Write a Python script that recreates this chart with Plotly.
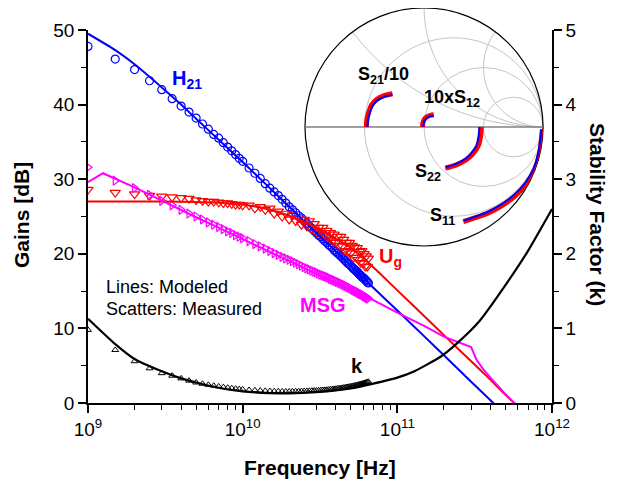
import numpy as np
import plotly.graph_objects as go

# ---------------- data (frequencies in GHz) ----------------
f_meas_ghz = [1, 1.5, 2, 2.5, 3, 3.5, 4, 4.5, 5, 5.5, 6, 6.5, 7, 7.5, 8, 8.5, 9, 9.5, 10,
              11, 12, 13, 14, 15, 16, 17, 18, 19, 20, 21, 22, 23, 24, 25, 26, 27, 28, 29, 30,
              31, 32, 33, 34, 35, 36, 37, 38, 39, 40, 41, 42, 43, 44, 45, 46, 47, 48, 49, 50,
              51, 52, 53, 54, 55, 56, 57, 58, 59, 60, 61, 62, 63, 64, 65]

h21_meas = [47.8, 46.1, 44.7, 43.2, 42.0, 40.8, 39.8, 39.0, 38.2, 37.4, 36.7, 36.0, 35.5, 34.9, 34.3, 33.8, 33.3, 32.8, 32.4,
            31.5, 30.8, 30.1, 29.4, 28.8, 28.3, 27.8, 27.3, 26.8, 26.3, 25.9, 25.5, 25.1, 24.8, 24.4, 24.1, 23.7, 23.4, 23.1, 22.8,
            22.5, 22.3, 22.0, 21.7, 21.5, 21.2, 21.0, 20.8, 20.5, 20.3, 20.1, 19.9, 19.7, 19.5, 19.3, 19.1, 18.9, 18.7, 18.6, 18.4,
            18.2, 18.0, 17.9, 17.7, 17.6, 17.4, 17.2, 17.1, 16.9, 16.8, 16.7, 16.5, 16.4, 16.2, 16.1]

ug_meas = [28.6, 28.2, 28.0, 27.8, 27.7, 27.6, 27.5, 27.4, 27.2, 27.1, 27.0, 27.0, 26.9, 26.8, 26.8, 26.7, 26.6, 26.6, 26.5,
           26.5, 26.1, 26.3, 25.9, 26.1, 25.4, 25.7, 25.0, 25.4, 24.6, 25.2, 24.4, 24.8, 23.9, 24.6, 23.7, 24.4, 23.3, 24.0, 22.9,
           23.5, 22.7, 23.5, 22.5, 23.1, 21.9, 22.8, 21.7, 22.6, 21.5, 22.3, 21.1, 22.3, 21.0, 21.9, 20.4, 21.5, 20.3, 21.5, 20.1,
           21.1, 19.5, 20.9, 19.5, 20.8, 19.2, 20.3, 18.8, 20.4, 18.7, 20.0, 18.3, 19.7, 18.3, 19.4]

msg_meas = [31.6, 29.8, 28.8, 27.9, 27.1, 26.5, 25.9, 25.4, 25.0, 24.6, 24.2, 23.9, 23.6, 23.3, 23.0, 22.8, 22.5, 22.3, 22.1,
            21.7, 21.3, 21.0, 20.7, 20.4, 20.1, 19.85, 19.6, 19.4, 19.2, 19.0, 18.8, 18.6, 18.4, 18.2, 18.05, 17.9, 17.75, 17.6, 17.5,
            17.35, 17.2, 17.1, 17.0, 16.9, 16.8, 16.65, 16.55, 16.45, 16.35, 16.25, 16.15, 16.05, 15.95, 15.85, 15.75, 15.65, 15.55, 15.45, 15.35,
            15.25, 15.15, 15.05, 14.95, 14.9, 14.8, 14.7, 14.6, 14.55, 14.45, 14.35, 14.25, 14.2, 14.1, 14.0]

k_meas = [0.98, 0.71, 0.56, 0.465, 0.40, 0.366, 0.33, 0.30, 0.275, 0.258, 0.244, 0.232, 0.222, 0.213, 0.205, 0.198, 0.192, 0.187, 0.182,
          0.175, 0.170, 0.166, 0.163, 0.160, 0.158, 0.157, 0.156, 0.155, 0.155, 0.156, 0.157, 0.158, 0.159, 0.160, 0.162, 0.163, 0.165, 0.167, 0.168,
          0.170, 0.172, 0.174, 0.176, 0.178, 0.181, 0.183, 0.186, 0.188, 0.191, 0.194, 0.197, 0.200, 0.203, 0.206, 0.209, 0.212, 0.216, 0.219, 0.222,
          0.226, 0.230, 0.233, 0.237, 0.241, 0.245, 0.249, 0.253, 0.257, 0.262, 0.266, 0.271, 0.275, 0.280, 0.285]

# modeled curves
h21_model_f = [1, 1.5, 2, 3, 4, 5, 7, 10, 15, 20, 30, 50, 70, 100, 150, 200, 300, 400, 500]
h21_model = [49.5, 47.3, 45.4, 42.3, 40.0, 38.1, 35.3, 32.3, 28.8, 26.3, 22.8, 18.4, 15.45, 12.4, 8.9, 6.4, 2.85, 0.36, -1.6]

ug_model_f = [1, 3, 5, 7, 10, 15, 20, 30, 40, 50, 70, 100, 150, 200, 300, 400, 500, 600]
ug_model = [27.0, 27.0, 26.95, 26.85, 26.6, 25.9, 25.1, 23.5, 22.0, 20.8, 18.2, 15.1, 11.6, 9.1, 5.6, 3.1, 1.1, -0.45]

msg_model_f = [1, 1.25, 2, 3, 5, 7, 10, 15, 20, 30, 50, 70, 100, 150, 200, 250, 300, 325, 360, 400, 450, 500, 600]
msg_model = [29.6, 30.8, 28.9, 27.1, 24.9, 23.5, 22.0, 20.3, 19.1, 17.3, 15.1, 13.8, 12.1, 10.3, 8.9, 8.1, 7.5, 5.8, 4.5, 3.4, 2.2, 1.2, -0.45]

k_model_f = [1, 1.5, 2, 3, 4, 5, 7, 10, 15, 20, 30, 50, 70, 100, 130, 190, 240, 340, 500, 700, 1000]
k_model = [1.13, 0.79, 0.59, 0.425, 0.33, 0.275, 0.205, 0.155, 0.133, 0.128, 0.145, 0.195, 0.26, 0.34, 0.43, 0.62, 0.79, 1.10, 1.58, 2.04, 2.60]

x_tick_vals = [1e9, 1e10, 1e11, 1e12]
x_tick_text = ["10<sup>9</sup>", "10<sup>10</sup>", "10<sup>11</sup>", "10<sup>12</sup>"]

# Smith chart inset: reflection coefficients (Gamma = re, im)
s11_model_re = [0.985, 0.96, 0.92, 0.85, 0.757, 0.65, 0.54, 0.44, 0.335]
s11_model_im = [-0.02, -0.22, -0.35, -0.47, -0.57, -0.65, -0.71, -0.75, -0.785]
s11_meas_re = [0.995, 0.97, 0.93, 0.86, 0.765, 0.655, 0.545, 0.44, 0.33]
s11_meas_im = [-0.02, -0.225, -0.36, -0.48, -0.58, -0.66, -0.72, -0.76, -0.795]

s22_model_re = [0.465, 0.458, 0.44, 0.40, 0.35, 0.27, 0.185]
s22_model_im = [0.0, -0.08, -0.154, -0.215, -0.266, -0.31, -0.336]
s22_meas_re = [0.482, 0.475, 0.455, 0.41, 0.355, 0.272, 0.178]
s22_meas_im = [0.0, -0.082, -0.16, -0.225, -0.275, -0.318, -0.345]

s21_model_re = [-0.475, -0.47, -0.455, -0.43, -0.39, -0.33, -0.265]
s21_model_im = [0.0, 0.06, 0.12, 0.18, 0.225, 0.255, 0.27]
s21_meas_re = [-0.485, -0.48, -0.465, -0.44, -0.398, -0.335, -0.265]
s21_meas_im = [0.0, 0.062, 0.124, 0.186, 0.232, 0.263, 0.28]

s12_model_re = [-0.005, -0.003, 0.005, 0.02, 0.04, 0.06, 0.08]
s12_model_im = [0.0, 0.03, 0.055, 0.072, 0.085, 0.092, 0.095]
s12_meas_re = [-0.012, -0.01, 0.0, 0.016, 0.038, 0.06, 0.082]
s12_meas_im = [0.0, 0.032, 0.06, 0.08, 0.093, 0.1, 0.103]

# ---------------- figure ----------------
W, H = 621, 484
OFF = 8  # page body margin offset
FONT = "Liberation Sans, Arial, sans-serif"
BLUE, RED, MAG, BLK = "#0000FF", "#FF0000", "#FF00FF", "#000000"


def hz(lst):
    return [v * 1e9 for v in lst]


def gamma_to_z(re, im):
    g = np.array(re) + 1j * np.array(im)
    z = (1 + g) / (1 - g)
    return z.real, z.imag


fig = go.Figure()

# measured scatters
fig.add_trace(go.Scatter(x=hz(f_meas_ghz), y=h21_meas, mode="markers", xaxis="x", yaxis="y",
                         marker=dict(symbol="circle-open", size=8, color=BLUE, line=dict(width=1.2))))
fig.add_trace(go.Scatter(x=hz(f_meas_ghz), y=ug_meas, mode="markers", xaxis="x", yaxis="y",
                         marker=dict(symbol="triangle-down-open", size=9, color=RED, line=dict(width=1.2))))
fig.add_trace(go.Scatter(x=hz(f_meas_ghz), y=msg_meas, mode="markers", xaxis="x", yaxis="y",
                         marker=dict(symbol="triangle-right-open", size=8, color=MAG, line=dict(width=1.2))))
fig.add_trace(go.Scatter(x=hz(f_meas_ghz), y=k_meas, mode="markers", xaxis="x", yaxis="y2",
                         marker=dict(symbol="triangle-up-open", size=6, color=BLK, line=dict(width=1))))

# modeled lines
fig.add_trace(go.Scatter(x=hz(h21_model_f), y=h21_model, mode="lines", xaxis="x", yaxis="y",
                         line=dict(color=BLUE, width=2, shape="spline", smoothing=0.6)))
fig.add_trace(go.Scatter(x=hz(ug_model_f), y=ug_model, mode="lines", xaxis="x", yaxis="y",
                         line=dict(color=RED, width=2, shape="spline", smoothing=0.6)))
fig.add_trace(go.Scatter(x=hz(msg_model_f), y=msg_model, mode="lines", xaxis="x", yaxis="y",
                         line=dict(color=MAG, width=2)))
fig.add_trace(go.Scatter(x=hz(k_model_f), y=k_model, mode="lines", xaxis="x", yaxis="y2",
                         line=dict(color=BLK, width=2.2, shape="spline", smoothing=0.6)))

# Smith chart inset
for (mre, mim, dre, dim) in [(s11_meas_re, s11_meas_im, s11_model_re, s11_model_im),
                             (s22_meas_re, s22_meas_im, s22_model_re, s22_model_im),
                             (s21_meas_re, s21_meas_im, s21_model_re, s21_model_im),
                             (s12_meas_re, s12_meas_im, s12_model_re, s12_model_im)]:
    zr, zi = gamma_to_z(mre, mim)
    fig.add_trace(go.Scattersmith(real=zr, imag=zi, subplot="smith", mode="lines",
                                  line=dict(color=RED, width=5, shape="spline")))
    zr, zi = gamma_to_z(dre, dim)
    fig.add_trace(go.Scattersmith(real=zr, imag=zi, subplot="smith", mode="lines",
                                  line=dict(color=BLUE, width=2, shape="spline")))


def px(x):
    return (x - OFF) / W


def py(y):
    return 1 - (y - OFF) / H


annots = []


def add_text(text, x, y, size, color=BLK, bold=True, xanchor="center", angle=0):
    annots.append(dict(text=("<b>%s</b>" % text) if bold else text, x=px(x), y=py(y),
                       xref="paper", yref="paper", xanchor=xanchor, yanchor="middle",
                       showarrow=False, textangle=angle,
                       font=dict(family=FONT, size=size, color=color)))


add_text("Gains [dB]", 22, 215, 21, angle=-90)
add_text("Stability Factor (k)", 598, 214, 21, angle=90)
add_text("Frequency [Hz]", 320, 467, 21)

add_text("H<sub>21</sub>", 187, 79, 20, BLUE)
add_text("U<sub>g</sub>", 390, 258, 20, RED)
add_text("MSG", 323, 305, 20, MAG)
add_text("k", 357, 366, 20, BLK)
add_text("Lines: Modeled", 104, 287, 18, bold=False, xanchor="left")
add_text("Scatters: Measured", 104, 309, 18, bold=False, xanchor="left")

add_text("S<sub>21</sub>/10", 383, 76, 18)
add_text("10xS<sub>12</sub>", 452, 99, 18)
add_text("S<sub>22</sub>", 428, 172, 18)
add_text("S<sub>11</sub>", 442, 216, 18)

axis_common = dict(showline=True, linecolor=BLK, linewidth=1.5, ticks="outside", ticklen=8,
                   tickwidth=1.5, tickcolor=BLK, showgrid=False, zeroline=False, automargin=False,
                   tickfont=dict(family=FONT, size=19, color=BLK))

minor_x = [m * 10 ** e for e in range(9, 12) for m in range(2, 10)]

R = 119
CX, CY = 424, 127

fig.update_layout(
    width=W, height=H,
    margin=dict(l=0, r=0, t=0, b=0, autoexpand=False),
    paper_bgcolor="white", plot_bgcolor="white",
    showlegend=False,
    font=dict(family=FONT, color=BLK),
    xaxis=dict(type="log", range=[9, 12], domain=[px(88), px(552)], anchor="y",
               tickmode="array", tickvals=x_tick_vals, ticktext=x_tick_text,
               minor=dict(ticks="outside", ticklen=5, tickwidth=1.2, tickcolor=BLK,
                          tickmode="array", tickvals=minor_x, showgrid=False),
               **axis_common),
    yaxis=dict(range=[0, 50], domain=[py(403), py(30)], anchor="x", dtick=10,
               minor=dict(ticks="outside", ticklen=5, tickwidth=1.2, tickcolor=BLK, dtick=5, showgrid=False),
               **axis_common),
    yaxis2=dict(range=[0, 5], overlaying="y", side="right", anchor="x", dtick=1,
                minor=dict(ticks="outside", ticklen=5, tickwidth=1.2, tickcolor=BLK, dtick=0.5, showgrid=False),
                **axis_common),
    smith=dict(
        domain=dict(x=[px(CX - R), px(CX + R)], y=[max(0.0, py(CY + R)), min(1.0, py(CY - R))]),
        bgcolor="rgba(0,0,0,0)",
        realaxis=dict(tickvals=[0.333, 1, 3], showticklabels=False, ticks="",
                      gridcolor="#c4c4c4", gridwidth=1, linecolor="#808080", linewidth=1.5,
                      layer="below traces"),
        imaginaryaxis=dict(tickvals=[0.5, 1, 2], showticklabels=False, ticks="",
                           gridcolor="#c4c4c4", gridwidth=1, linecolor=BLK, linewidth=1.2,
                           layer="below traces"),
    ),
    annotations=annots,
)

fig.write_html("out.html")
